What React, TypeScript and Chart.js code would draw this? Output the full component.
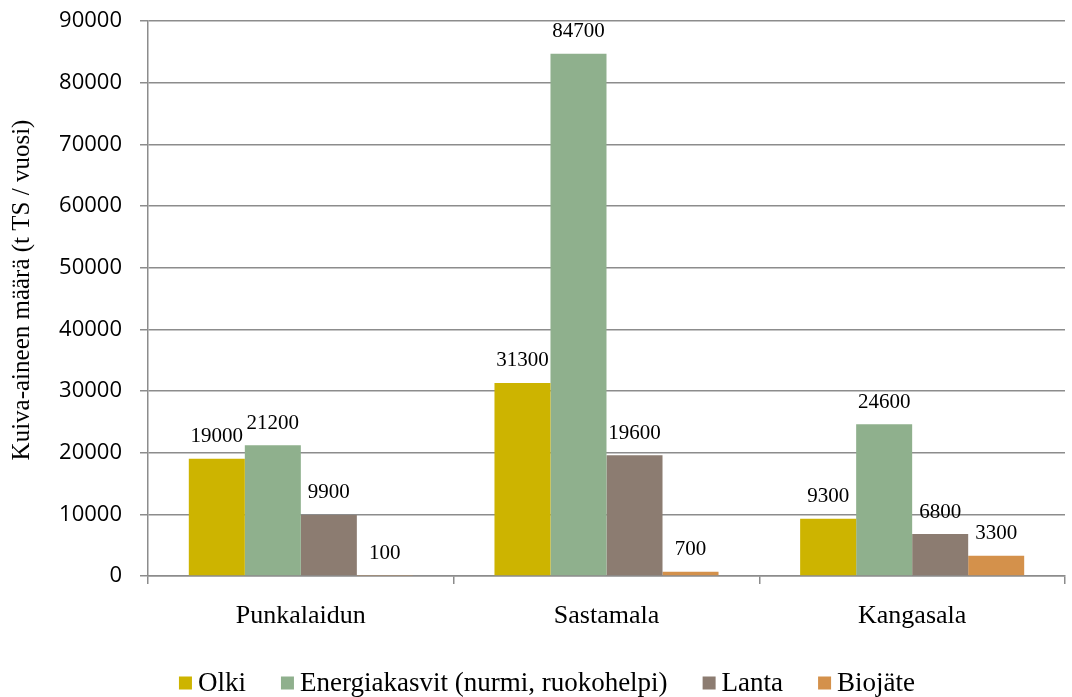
import React, { useEffect, useRef } from "react";
import { Chart, registerables } from "chart.js";

Chart.register(...registerables);

// Municipalities on the category axis
const municipalities = ["Punkalaidun", "Sastamala", "Kangasala"];

// Dry matter amounts, t TS / year
const olki = [19000, 31300, 9300];
const energiakasvit = [21200, 84700, 24600];
const lanta = [9900, 19600, 6800];
const biojate = [100, 700, 3300];

const seriesNames = ["Olki", "Energiakasvit (nurmi, ruokohelpi)", "Lanta", "Biojäte"];
const seriesColors = ["#CDB400", "#8FB08D", "#8C7C71", "#D4914B"];

const yMax = 90000;
const yStep = 10000;
const yTitle = "Kuiva-aineen määrä (t TS / vuosi)";

const SERIF = "'Liberation Serif', 'Times New Roman', serif";
const SANS = "'Open Sans', 'Noto Sans', sans-serif";
const GRID = "#8c8c8c";

// Value labels above every bar
const valueLabels = {
  id: "valueLabels",
  afterDatasetsDraw(chart: any) {
    const { ctx } = chart;
    ctx.save();
    ctx.font = `21px ${SERIF}`;
    ctx.fillStyle = "#000";
    ctx.textAlign = "center";
    ctx.textBaseline = "middle";
    chart.data.datasets.forEach((ds: any, i: number) => {
      const meta = chart.getDatasetMeta(i);
      meta.data.forEach((el: any, j: number) => {
        ctx.fillText(String(ds.data[j]), el.x, el.y - 22);
      });
    });
    ctx.restore();
  },
};

// Rotated y-axis title, left of the tick labels
const axisTitle = {
  id: "axisTitle",
  afterDraw(chart: any) {
    const { ctx } = chart;
    ctx.save();
    ctx.translate(22, 290);
    ctx.rotate(-Math.PI / 2);
    ctx.font = `25px ${SERIF}`;
    ctx.fillStyle = "#000";
    ctx.textAlign = "center";
    ctx.textBaseline = "middle";
    ctx.fillText(yTitle, 0, 0);
    ctx.restore();
  },
};

// Legend row under the category labels
const bottomLegend = {
  id: "bottomLegend",
  afterDraw(chart: any) {
    const { ctx } = chart;
    const box = 13;
    const gap = 6;
    const spacing = 35;
    const y = 683;
    ctx.save();
    ctx.font = `27px ${SERIF}`;
    const widths = seriesNames.map((n) => box + gap + ctx.measureText(n).width);
    const total = widths.reduce((a, b) => a + b, 0) + spacing * (widths.length - 1);
    let x = 547 - total / 2;
    ctx.textBaseline = "middle";
    ctx.textAlign = "left";
    seriesNames.forEach((n, i) => {
      ctx.fillStyle = seriesColors[i];
      ctx.fillRect(x, y - box / 2, box, box);
      ctx.fillStyle = "#000";
      ctx.fillText(n, x + box + gap, y + 1);
      x += widths[i] + spacing;
    });
    ctx.restore();
  },
};

export default function App() {
  const canvasRef = useRef<HTMLCanvasElement | null>(null);

  useEffect(() => {
    if (!canvasRef.current) return;
    const series = [olki, energiakasvit, lanta, biojate];
    const chart = new Chart(canvasRef.current, {
      type: "bar",
      data: {
        labels: municipalities,
        datasets: series.map((d, i) => ({
          label: seriesNames[i],
          data: d,
          backgroundColor: seriesColors[i],
          borderWidth: 0,
          categoryPercentage: 0.733,
          barPercentage: 1,
        })),
      },
      options: {
        responsive: false,
        animation: false,
        layout: { padding: { left: 0, right: 7, top: 21, bottom: 61 } },
        plugins: {
          legend: { display: false },
          tooltip: { enabled: false },
        },
        scales: {
          x: {
            grid: {
              display: true,
              drawOnChartArea: false,
              drawTicks: true,
              tickLength: 8,
              offset: true,
              color: GRID,
              lineWidth: 1.5,
            },
            border: { display: true, color: GRID, width: 1.5 },
            ticks: {
              color: "#000",
              font: { family: SERIF, size: 26 },
              padding: 17,
            },
            afterFit: (s: any) => {
              s.height = 60;
              s.paddingLeft = 0;
              s.paddingRight = 0;
            },
          },
          y: {
            min: 0,
            max: yMax,
            ticks: {
              stepSize: yStep,
              color: "#000",
              font: { family: SANS, size: 22 },
              padding: 18,
              callback: (v: any) => String(v),
            },
            grid: {
              color: GRID,
              lineWidth: 1.5,
              tickLength: 8,
            },
            border: { display: true, color: GRID, width: 1.5 },
            title: { display: false },
            afterFit: (s: any) => {
              s.width = 148;
              s.paddingTop = 0;
              s.paddingBottom = 0;
            },
          },
        },
      },
      plugins: [valueLabels, axisTitle, bottomLegend],
    });
    return () => chart.destroy();
  }, []);

  return (
    <div style={{ position: "absolute", left: 0, top: 0, width: 1072, height: 697, background: "#fff" }}>
      <canvas ref={canvasRef} width={1072} height={697} style={{ display: "block", width: 1072, height: 697 }} />
    </div>
  );
}
